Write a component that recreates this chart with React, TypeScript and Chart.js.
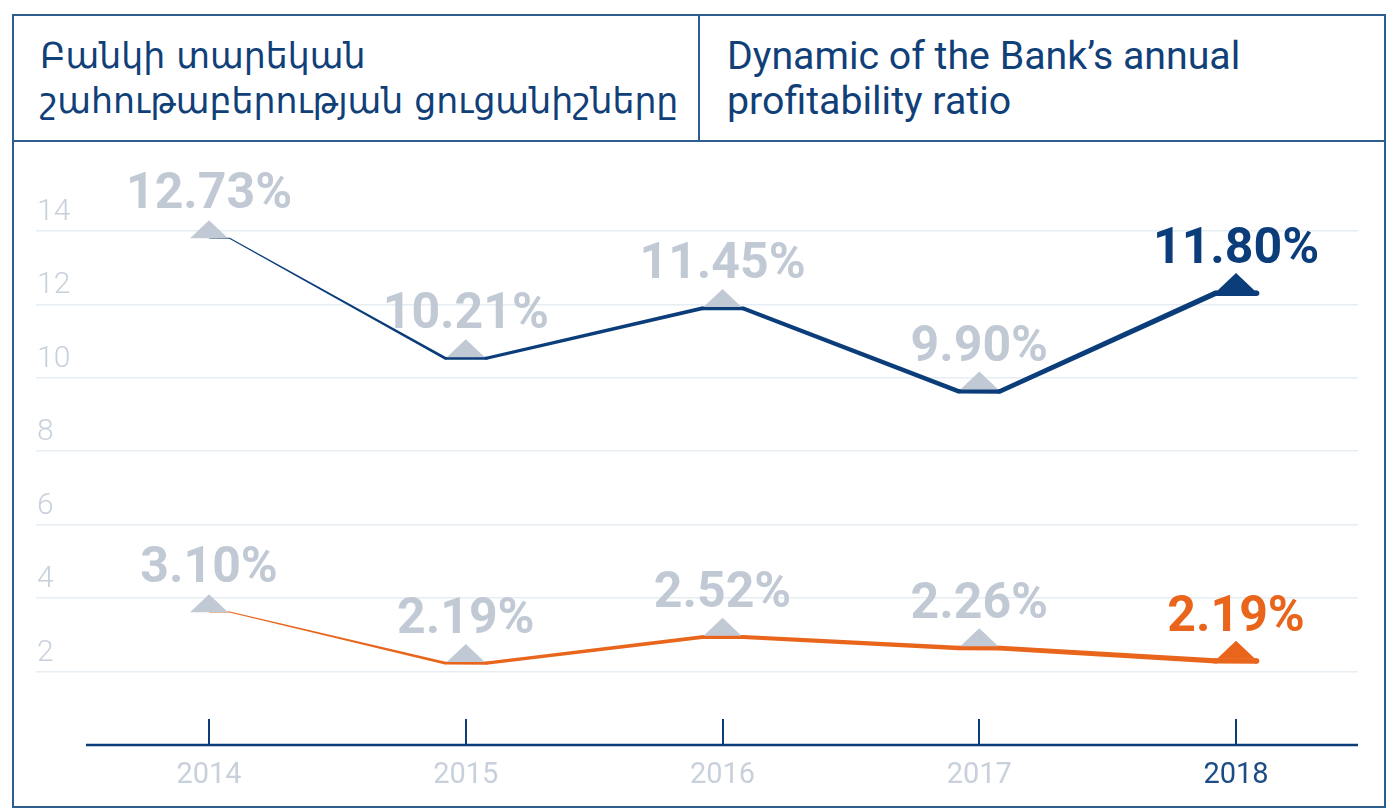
import React, { useEffect, useRef } from 'react';
import { Chart, registerables } from 'chart.js';

Chart.register(...registerables);

// ---- data ----
const YEARS = ['2014', '2015', '2016', '2017', '2018'];
// plotted positions on the value axis
const RETURN_ON_EQUITY = [13.8, 10.53, 11.89, 9.63, 12.3];
const RETURN_ON_EQUITY_LABELS = ['12.73%', '10.21%', '11.45%', '9.90%', '11.80%'];
const RETURN_ON_ASSETS = [3.62, 2.23, 2.94, 2.64, 2.29];
const RETURN_ON_ASSETS_LABELS = ['3.10%', '2.19%', '2.52%', '2.26%', '2.19%'];
const Y_TICKS = [2, 4, 6, 8, 10, 12, 14];

const TITLE_HY = ['Բանկի տարեկան', 'շահութաբերության ցուցանիշները'];
const TITLE_EN = ['Dynamic of the Bank’s annual', 'profitability ratio'];

// ---- styles ----
const NAVY = '#0b3d7a';
const ORANGE = '#e8651b';
const GREY = '#c1cad4';
const TICK_GREY = '#c8d1db';
const GRID = '#e6edf3';
const FRAME = '#2e5d90';
const TITLE_COLOR = '#113f78';
const WIDTHS = [0.8, 3.0, 3.8, 4.6, 5.5];
const PLATEAU = 0.08;
const X_MIN = -0.674;
const X_MAX = 4.475;
const Y_MAX = 16.42;

const widthAt = (xv: number) => {
  const c = Math.max(0, Math.min(WIDTHS.length - 1, xv));
  const i = Math.min(WIDTHS.length - 2, Math.floor(c));
  const t = c - i;
  return WIDTHS[i] + (WIDTHS[i + 1] - WIDTHS[i]) * t;
};

const decoPlugin = {
  id: 'deco',
  beforeDatasetsDraw(chart: any) {
    const { ctx, chartArea } = chart;
    const x = chart.scales.x;
    const y = chart.scales.y;
    ctx.save();
    // axis line and ticks
    ctx.strokeStyle = NAVY;
    ctx.lineWidth = 2.5;
    ctx.beginPath();
    ctx.moveTo(chartArea.left + 50, chartArea.bottom);
    ctx.lineTo(chartArea.right, chartArea.bottom);
    ctx.stroke();
    ctx.lineWidth = 2;
    YEARS.forEach((_, i) => {
      const px = Math.round(x.getPixelForValue(i));
      ctx.beginPath();
      ctx.moveTo(px, chartArea.bottom - 26);
      ctx.lineTo(px, chartArea.bottom);
      ctx.stroke();
    });
    // tapered lines
    chart.data.datasets.forEach((ds: any) => {
      const pts: { x: number; y: number; w: number }[] = [];
      ds.data.forEach((p: any, i: number) => {
        const xs = i === 0 ? [p.x, p.x + PLATEAU] : [p.x - PLATEAU, p.x + PLATEAU];
        xs.forEach((xv) =>
          pts.push({ x: x.getPixelForValue(xv), y: y.getPixelForValue(p.y), w: widthAt(xv) })
        );
      });
      ctx.fillStyle = ds.borderColor;
      for (let k = 0; k < pts.length - 1; k++) {
        const a = pts[k];
        const b = pts[k + 1];
        const dx = b.x - a.x;
        const dy = b.y - a.y;
        const len = Math.hypot(dx, dy) || 1;
        const nx = -dy / len;
        const ny = dx / len;
        ctx.beginPath();
        ctx.moveTo(a.x + (nx * a.w) / 2, a.y + (ny * a.w) / 2);
        ctx.lineTo(b.x + (nx * b.w) / 2, b.y + (ny * b.w) / 2);
        ctx.lineTo(b.x - (nx * b.w) / 2, b.y - (ny * b.w) / 2);
        ctx.lineTo(a.x - (nx * a.w) / 2, a.y - (ny * a.w) / 2);
        ctx.closePath();
        ctx.fill();
      }
      pts.forEach((p, k) => {
        if (k === 0) return;
        ctx.beginPath();
        ctx.arc(p.x, p.y, p.w / 2, 0, Math.PI * 2);
        ctx.fill();
      });
    });
    ctx.restore();
  },
  afterDatasetsDraw(chart: any) {
    const { ctx } = chart;
    const x = chart.scales.x;
    const y = chart.scales.y;
    ctx.save();
    chart.data.datasets.forEach((ds: any) => {
      const last = ds.data.length - 1;
      ds.data.forEach((p: any, i: number) => {
        const px = x.getPixelForValue(p.x);
        const py = y.getPixelForValue(p.y);
        const w = widthAt(p.x);
        const color = i === last ? ds.borderColor : GREY;
        const base = py - w / 2 + 0.5;
        ctx.fillStyle = color;
        ctx.beginPath();
        ctx.moveTo(px - 19, base);
        ctx.lineTo(px, base - 18);
        ctx.lineTo(px + 19, base);
        ctx.closePath();
        ctx.fill();
        ctx.font = 'bold 50px Roboto';
        ctx.textAlign = 'center';
        ctx.textBaseline = 'alphabetic';
        ctx.fillText(ds.valueLabels[i], px, py - 30);
      });
    });
    ctx.restore();
  },
};

export default function App() {
  const ref = useRef<HTMLCanvasElement>(null);

  useEffect(() => {
    if (!ref.current) return;
    const chart = new Chart(ref.current, {
      type: 'line',
      data: {
        datasets: [
          {
            label: 'ROE',
            data: RETURN_ON_EQUITY.map((v, i) => ({ x: i, y: v })),
            borderColor: NAVY,
            showLine: false,
            pointRadius: 0,
            valueLabels: RETURN_ON_EQUITY_LABELS,
          } as any,
          {
            label: 'ROA',
            data: RETURN_ON_ASSETS.map((v, i) => ({ x: i, y: v })),
            borderColor: ORANGE,
            showLine: false,
            pointRadius: 0,
            valueLabels: RETURN_ON_ASSETS_LABELS,
          } as any,
        ],
      },
      options: {
        animation: false,
        responsive: false,
        maintainAspectRatio: false,
        layout: { padding: { left: 36, right: 39, top: 142, bottom: 0 } },
        plugins: { legend: { display: false }, tooltip: { enabled: false } },
        scales: {
          x: {
            type: 'linear',
            min: X_MIN,
            max: X_MAX,
            afterBuildTicks: (s: any) => {
              s.ticks = YEARS.map((_, i) => ({ value: i }));
            },
            afterFit: (s: any) => {
              s.height = 64;
            },
            grid: { display: false, drawTicks: false },
            border: { display: false },
            ticks: {
              autoSkip: false,
              maxRotation: 0,
              padding: 13,
              callback: (v: any) => YEARS[v],
              color: (c: any) => (c.index === YEARS.length - 1 ? '#1d4b85' : TICK_GREY),
              font: { family: 'Roboto', size: 29, weight: '400' },
            },
          },
          y: {
            min: 0,
            max: Y_MAX,
            afterBuildTicks: (s: any) => {
              s.ticks = Y_TICKS.map((v) => ({ value: v }));
            },
            afterFit: (s: any) => {
              s.width = 0;
            },
            grid: { color: GRID, lineWidth: 1.5, drawTicks: false },
            border: { display: false },
            ticks: {
              mirror: true,
              padding: 1,
              labelOffset: -18.5,
              color: TICK_GREY,
              font: { family: 'Roboto', size: 30, weight: '300' },
            },
          },
        },
      } as any,
      plugins: [decoPlugin],
    });
    return () => chart.destroy();
  }, []);

  const titleBase: React.CSSProperties = {
    color: TITLE_COLOR,
    lineHeight: '45px',
    boxSizing: 'border-box',
    paddingTop: 18,
    whiteSpace: 'nowrap',
  };

  return (
    <div style={{ position: 'fixed', left: 0, top: 0, width: 1397, height: 809, background: '#fff' }}>
      <canvas
        ref={ref}
        width={1397}
        height={809}
        style={{ position: 'absolute', left: 0, top: 0, width: 1397, height: 809 }}
      />
      <div
        style={{
          position: 'absolute',
          left: 12,
          top: 14,
          width: 1374,
          height: 794,
          border: `2px solid ${FRAME}`,
          boxSizing: 'border-box',
          pointerEvents: 'none',
        }}
      >
        <div
          style={{
            display: 'flex',
            height: 126,
            borderBottom: `2px solid ${FRAME}`,
            boxSizing: 'border-box',
            background: '#fff',
          }}
        >
          <div
            style={{
              ...titleBase,
              width: 686,
              borderRight: `2px solid ${FRAME}`,
              paddingLeft: 26,
              fontFamily: '"DejaVu Sans", sans-serif',
              fontSize: 34.7,
            }}
          >
            {TITLE_HY[0]}
            <br />
            {TITLE_HY[1]}
          </div>
          <div
            style={{
              ...titleBase,
              flex: 1,
              paddingLeft: 27,
              fontFamily: 'Roboto, sans-serif',
              fontSize: 39.3,
            }}
          >
            {TITLE_EN[0]}
            <br />
            {TITLE_EN[1]}
          </div>
        </div>
      </div>
    </div>
  );
}
